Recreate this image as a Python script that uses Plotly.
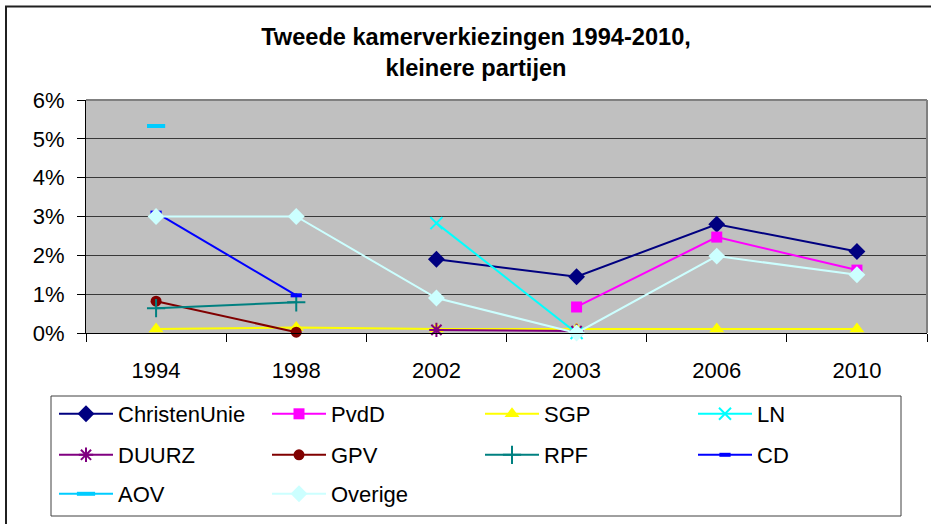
import plotly.graph_objects as go

years = ["1994", "1998", "2002", "2003", "2006", "2010"]

christenunie = [None, None, 1.90, 1.45, 2.80, 2.10]
pvdd = [None, None, None, 0.67, 2.47, 1.62]
sgp = [0.10, 0.14, 0.10, 0.10, 0.10, 0.10]
ln = [None, None, 2.83, 0.00, None, None]
duurz = [None, None, 0.08, 0.05, None, None]
gpv = [0.82, 0.02, None, None, None, None]
rpf = [0.64, 0.79, None, None, None, None]
cd = [3.10, 0.97, None, None, None, None]
aov = [5.33, None, None, None, None, None]
overige = [3.00, 3.00, 0.90, 0.00, 1.98, 1.50]

y_ticks = [0, 1, 2, 3, 4, 5, 6]
y_tick_labels = ["0%", "1%", "2%", "3%", "4%", "5%", "6%"]

series = [
    # name, values, color, symbol, size, marker line width, legend
    ("ChristenUnie", christenunie, "#000080", "diamond", 13, 0, "legend"),
    ("PvdD", pvdd, "#FF00FF", "square", 11, 0, "legend"),
    ("SGP", sgp, "#FFFF00", "triangle-up", 13, 0, "legend"),
    ("LN", ln, "#00FFFF", "x-thin-open", 12, 2, "legend"),
    ("DUURZ", duurz, "#800080", "asterisk-open", 12, 2, "legend2"),
    ("GPV", gpv, "#800000", "circle", 11, 0, "legend2"),
    ("RPF", rpf, "#008080", "cross-thin-open", 13, 2, "legend2"),
    ("CD", cd, "#0000FF", "line-ew-open", 8, 4, "legend2"),
    ("AOV", aov, "#00CCFF", "line-ew-open", 13, 4, "legend3"),
    ("Overige", overige, "#CCFFFF", "diamond", 13, 0, "legend3"),
]

fig = go.Figure()
for name, vals, color, symbol, size, lw, leg in series:
    marker = dict(symbol=symbol, size=size, color=color)
    if lw:
        marker["line"] = dict(color=color, width=lw)
    fig.add_trace(go.Scatter(
        x=years, y=vals, name=name, mode="lines+markers",
        line=dict(color=color, width=2), marker=marker,
        connectgaps=False, cliponaxis=False, legend=leg,
    ))

L, R, T, B = 86, 4, 100, 191
W, H = 931, 524
pw, ph = W - L - R, H - T - B

def px_x(x):
    return (x - L) / pw

def px_y(y):
    return (H - B - y) / ph

font = dict(family="Arial, Liberation Sans, sans-serif", size=22, color="black")

legend_common = dict(
    orientation="h", entrywidth=144, entrywidthmode="pixels", itemwidth=54,
    font=font, bgcolor="rgba(0,0,0,0)", borderwidth=0,
    xanchor="left", yanchor="middle", x=px_x(54),
)

fig.update_layout(
    width=W, height=H,
    margin=dict(l=L, r=R, t=T, b=B, pad=0, autoexpand=False),
    paper_bgcolor="white", plot_bgcolor="#C0C0C0",
    font=font,
    title=dict(
        text="<b>Tweede kamerverkiezingen 1994-2010,<br>kleinere partijen</b>",
        font=dict(family="Arial, Liberation Sans, sans-serif", size=23.6, color="black"),
        x=476 / W, xanchor="center", y=1 - 45 / H, yanchor="top",
    ),
    legend=dict(**legend_common, y=px_y(414)),
    legend2=dict(**legend_common, y=px_y(455)),
    legend3=dict(**legend_common, y=px_y(494)),
    showlegend=True,
    xaxis=dict(
        type="category", categoryorder="array", categoryarray=years,
        range=[-0.5, 5.5], tickson="boundaries", ticks="outside", ticklen=8,
        tickcolor="black", showline=True, linecolor="black", linewidth=1,
        showgrid=False, zeroline=False, ticklabelstandoff=18,
        tickfont=font, automargin=False,
    ),
    yaxis=dict(
        range=[0, 6], tickvals=y_ticks, ticktext=y_tick_labels, ticks="outside",
        ticklen=8, tickcolor="black", showline=True, linecolor="black",
        linewidth=1, showgrid=True, gridcolor="#383838", gridwidth=1,
        zeroline=False, ticklabelstandoff=8, tickfont=font, automargin=False,
    ),
    shapes=[
        dict(type="line", xref="paper", yref="paper", x0=0, x1=1, y0=1, y1=1,
             line=dict(color="#808080", width=2), layer="above"),
        dict(type="line", xref="paper", yref="paper", x0=1, x1=1, y0=0, y1=1,
             line=dict(color="#808080", width=2), layer="above"),
        dict(type="rect", xref="paper", yref="paper",
             x0=px_x(51), x1=px_x(901), y0=px_y(516), y1=px_y(396),
             line=dict(color="#404040", width=1), fillcolor="rgba(0,0,0,0)",
             layer="above"),
        dict(type="rect", xref="paper", yref="paper",
             x0=px_x(6), x1=px_x(945), y0=px_y(540), y1=px_y(6.5),
             line=dict(color="#202020", width=2), fillcolor="rgba(0,0,0,0)",
             layer="above"),
    ],
)

fig.write_html(
    "out.html",
    config={"displayModeBar": False},
    post_script="document.body.style.margin='0';document.body.style.overflow='hidden';",
)
